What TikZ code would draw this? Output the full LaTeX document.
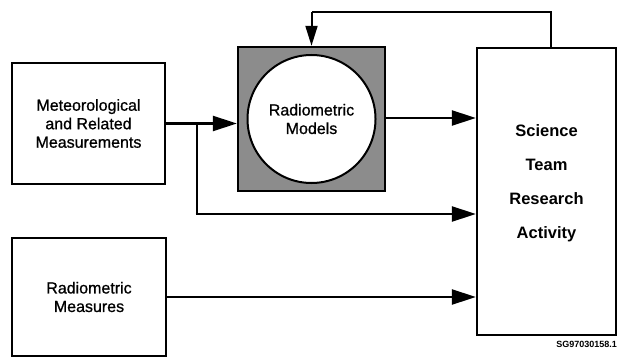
\documentclass[tikz,border=0pt]{standalone}
\usepackage{fontspec}
\setmainfont{Liberation Sans}
\newfontfamily\medfont{Liberation Sans}[FakeBold=0.8]
\usepackage{xcolor}
\usetikzlibrary{arrows.meta}

\tikzset{
  box/.style={draw=black, line width=2.4pt, fill=white, inner sep=0pt, align=center,
              font=\medfont\fontsize{16}{18.5}\selectfont},
  arr/.style={line width=2.6pt, -{Triangle[length=24pt,width=15pt]}},
  wire/.style={line width=2.6pt}
}

\begin{document}
\begin{tikzpicture}[x=1pt,y=-1pt]
\useasboundingbox (0,0) rectangle (620,358);

% INPUT BOXES
  \node[box, minimum width=153pt, minimum height=121pt] (met) at (88.5,123.5)
       {Meteorological\\and Related\\Measurements};
  \node[box, minimum width=154pt, minimum height=118pt] (rad) at (89,297)
       {Radiometric\\Measures};

% MODEL BOX
  \node[draw=black, line width=2.4pt, fill=black!45, minimum width=147pt,
        minimum height=144pt, inner sep=0pt] (model) at (311.5,119) {};
  \node[circle, draw=black, line width=2pt, fill=white, minimum size=128pt,
        inner sep=0pt, align=center, font=\medfont\fontsize{16}{18.5}\selectfont]
       (circ) at (model.center) {Radiometric\\Models};

% SCIENCE TEAM
  \node[box, minimum width=139pt, minimum height=287pt] (sci) at (546.5,191.5) {};
  \node[align=center, font=\fontsize{16.5}{34}\bfseries] (scitext) at (546.5,183)
       {Science\\Team\\Research\\Activity};

% ARROWS
  \draw[arr] (met.east) -- (met.east -| model.west);
  \draw[arr] (model.east |- 0,118) -- (sci.west |- 0,118);
  \coordinate (br) at (197,123);
  \coordinate (bj) at (197,214);
  \draw[wire] (br) -- (bj);
  \draw[arr] ([xshift=-1.3pt]bj) -- (bj -| sci.west);
  \draw[arr] (rad.east) -- (rad.east -| sci.west);

% FEEDBACK
  \coordinate (fb) at (551,12);
  \draw[line width=2pt] (sci.north -| fb) -- (fb) -- (fb -| model.north);
  \draw[line width=2pt, -{Triangle[length=20pt,width=12pt]}] (fb -| model.north) -- (model.north);

% ID
  \node[anchor=east, inner sep=0pt, font=\fontsize{9}{10}\bfseries] (id) at (617,344)
       {SG97030158.1};
\end{tikzpicture}
\end{document}
